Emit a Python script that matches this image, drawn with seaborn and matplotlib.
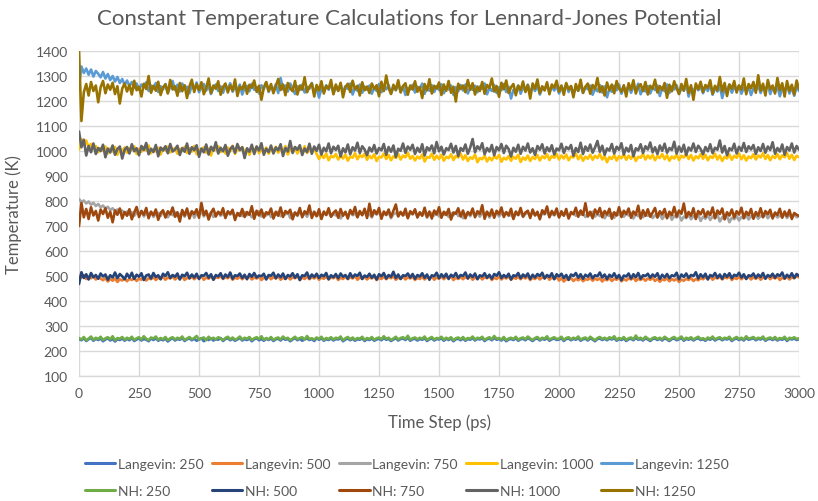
import numpy as np
import pandas as pd
import matplotlib
matplotlib.use("Agg")
import matplotlib.pyplot as plt
from matplotlib.lines import Line2D
import seaborn as sns

# Time axis (ps), sampled every 10 ps
time_ps = list(range(0, 3001, 10))

langevin_250 = [
    248, 243, 251, 240, 247, 252, 241, 249, 244, 250, 239, 246, 251, 242, 248, 238, 247, 244, 250, 241,
    249, 243, 252, 240, 246, 250, 242, 248, 245, 239, 250, 244, 251, 241, 247, 243, 249, 238, 246, 251,
    242, 248, 245, 252, 240, 247, 250, 243, 249, 241, 246, 251, 239, 248, 244, 250, 242, 247, 245, 252,
    240, 248, 251, 243, 249, 241, 246, 252, 242, 247, 244, 250, 239, 247, 251, 243, 248, 241, 249, 244,
    250, 240, 247, 249, 242, 251, 245, 248, 239, 246, 252, 243, 249, 241, 247, 250, 244, 248, 240, 251,
    245, 251, 241, 247, 244, 250, 242, 248, 246, 252, 239, 246, 250, 243, 249, 241, 247, 245, 251, 240,
    247, 244, 250, 241, 246, 249, 243, 252, 245, 248, 240, 246, 251, 242, 248, 250, 244, 253, 241, 247,
    249, 242, 248, 245, 251, 240, 247, 250, 242, 248, 246, 251, 241, 249, 244, 250, 239, 247, 249, 243,
    250, 241, 248, 245, 252, 242, 249, 246, 251, 240, 247, 250, 243, 252, 245, 248, 242, 250, 239, 246,
    248, 244, 251, 241, 247, 249, 243, 252, 246, 240, 248, 250, 242, 249, 245, 252, 241, 247, 250, 244,
    246, 251, 240, 248, 250, 243, 249, 245, 252, 241, 247, 249, 242, 251, 246, 239, 248, 250, 244, 249,
    243, 250, 246, 252, 241, 248, 244, 250, 240, 247, 249, 243, 253, 245, 248, 242, 251, 246, 240, 248,
    250, 244, 249, 242, 251, 246, 240, 248, 250, 243, 247, 252, 241, 249, 245, 250, 242, 248, 251, 244,
    247, 241, 249, 245, 252, 242, 248, 250, 243, 249, 246, 251, 240, 247, 250, 244, 249, 242, 252, 245,
    248, 251, 243, 249, 246, 252, 241, 247, 249, 244, 250, 242, 248, 245, 251, 240, 249, 246, 250, 244,
    247,
]

langevin_500 = [
    500, 494, 503, 488, 497, 491, 499, 486, 495, 490, 483, 492, 478, 488, 481, 490, 476, 487, 482, 491,
    479, 489, 484, 493, 480, 490, 485, 495, 482, 491, 487, 496, 484, 493, 488, 497, 485, 494, 490, 498,
    486, 495, 489, 499, 484, 493, 490, 497, 487, 496, 491, 500, 485, 494, 489, 498, 486, 495, 492, 499,
    488, 496, 491, 500, 485, 494, 489, 498, 487, 495, 492, 499, 486, 494, 490, 497, 484, 493, 491, 498,
    487, 496, 490, 499, 485, 493, 489, 497, 486, 495, 491, 500, 484, 494, 488, 498, 487, 496, 490, 499,
    485, 494, 489, 497, 486, 495, 491, 499, 484, 493, 488, 498, 487, 496, 490, 500, 485, 494, 489, 497,
    486, 495, 490, 498, 484, 493, 488, 497, 487, 496, 491, 499, 485, 494, 489, 498, 486, 495, 490, 497,
    484, 493, 488, 497, 486, 495, 490, 499, 485, 494, 489, 498, 487, 496, 491, 500, 484, 493, 488, 496,
    487, 496, 490, 499, 485, 494, 489, 498, 486, 495, 491, 499, 484, 493, 488, 497, 486, 495, 490, 498,
    485, 494, 489, 497, 487, 496, 490, 499, 484, 493, 488, 497, 486, 495, 491, 500, 485, 494, 489, 496,
    482, 491, 478, 488, 484, 492, 480, 489, 483, 492, 479, 487, 485, 493, 481, 490, 484, 491, 478, 488,
    483, 492, 480, 489, 485, 493, 479, 488, 482, 491, 486, 494, 480, 489, 484, 492, 481, 490, 485, 493,
    480, 489, 477, 487, 483, 491, 479, 488, 482, 490, 476, 486, 481, 489, 484, 492, 480, 488, 483, 491,
    487, 495, 489, 498, 485, 494, 490, 497, 486, 495, 491, 499, 484, 493, 488, 497, 487, 496, 490, 498,
    486, 495, 489, 497, 485, 494, 491, 499, 487, 496, 490, 498, 484, 493, 489, 497, 486, 495, 491, 499,
    494,
]

langevin_750 = [
    808, 796, 802, 790, 798, 785, 793, 780, 788, 775, 782, 770, 777, 764, 771, 760, 766, 755, 762, 750,
    758, 745, 755, 741, 752, 747, 760, 738, 750, 744, 757, 736, 749, 753, 740, 758, 746, 735, 751, 743,
    756, 739, 748, 752, 737, 755, 744, 760, 733, 749, 746, 757, 738, 751, 743, 754, 736, 748, 755, 741,
    750, 737, 753, 745, 758, 734, 747, 752, 740, 756, 743, 749, 735, 754, 746, 759, 738, 750, 742, 753,
    736, 749, 744, 757, 739, 751, 746, 755, 732, 748, 753, 740, 756, 743, 750, 737, 754, 745, 758, 741,
    747, 733, 752, 744, 756, 738, 749, 742, 755, 730, 746, 751, 739, 757, 743, 750, 736, 753, 745, 759,
    740, 748, 734, 754, 746, 757, 737, 750, 743, 755, 731, 747, 752, 741, 756, 744, 749, 735, 753, 746,
    758, 739, 750, 744, 755, 733, 748, 753, 742, 757, 738, 749, 745, 754, 736, 751, 743, 756, 740, 748,
    731, 747, 752, 739, 755, 745, 750, 737, 753, 744, 757, 734, 748, 742, 754, 738, 749, 746, 756, 740,
    745, 733, 751, 743, 757, 736, 748, 753, 740, 755, 744, 749, 732, 752, 746, 758, 739, 750, 742, 754,
    737, 748, 744, 756, 734, 749, 753, 741, 755, 745, 750, 736, 752, 743, 757, 738, 747, 740, 754, 731,
    746, 740, 751, 733, 748, 744, 755, 737, 750, 742, 753, 730, 747, 739, 752, 735, 745, 741, 749, 732,
    743, 736, 748, 728, 742, 738, 747, 725, 740, 734, 745, 722, 738, 731, 744, 727, 739, 733, 746, 720,
    737, 729, 743, 724, 738, 732, 745, 718, 735, 728, 741, 715, 733, 727, 740, 722, 736, 730, 742, 726,
    739, 733, 745, 729, 741, 736, 748, 731, 743, 738, 746, 734, 742, 737, 749, 732, 744, 739, 747, 735,
    740,
]

langevin_1000 = [
    1005, 1048, 1030, 1042, 1015, 1028, 1008, 1020, 995, 1012, 1002, 1018, 990, 1010, 998, 1016, 985, 1008, 1000, 1014,
    993, 1011, 1004, 1019, 988, 1009, 997, 1016, 1002, 1022, 991, 1007, 999, 1013, 986, 1010, 1003, 1018, 994, 1006,
    1012, 989, 1008, 1001, 1017, 992, 1011, 998, 1020, 987, 1006, 1000, 1015, 993, 1009, 982, 1013, 1004, 1019, 996,
    1007, 990, 1014, 999, 1021, 988, 1010, 1002, 1016, 994, 1008, 985, 1012, 1000, 1018, 991, 1006, 997, 1014, 989,
    1009, 1001, 1017, 993, 1011, 998, 1020, 986, 1007, 1003, 1015, 990, 1010, 996, 1019, 992, 1005, 999, 1013, 988,
    968, 985, 972, 990, 963, 980, 975, 988, 966, 982, 970, 986, 961, 978, 973, 991, 967, 983, 976, 989,
    965, 981, 971, 987, 960, 977, 974, 990, 968, 984, 963, 979, 972, 988, 966, 982, 975, 993, 969, 980,
    962, 978, 970, 986, 958, 976, 973, 989, 965, 981, 968, 985, 961, 977, 971, 987, 964, 980, 974, 990,
    966, 983, 960, 975, 969, 986, 955, 972, 967, 981, 958, 974, 963, 979, 970, 984, 957, 973, 966, 980,
    961, 977, 969, 985, 956, 974, 965, 982, 960, 976, 968, 984, 962, 979, 971, 987, 964, 980, 973, 988,
    966, 982, 970, 986, 963, 978, 974, 990, 967, 983, 961, 977, 969, 985, 965, 981, 972, 988, 966, 980,
    955, 976, 968, 984, 962, 979, 971, 987, 965, 981, 969, 986, 960, 977, 973, 989, 966, 982, 970, 985,
    963, 980, 972, 988, 967, 983, 961, 978, 970, 986, 964, 981, 974, 990, 968, 984, 962, 979, 971, 987,
    969, 985, 963, 979, 972, 989, 966, 982, 960, 977, 970, 986, 965, 981, 973, 990, 967, 983, 962, 978,
    971, 987, 966, 982, 974, 991, 968, 984, 963, 980, 972, 988, 967, 983, 975, 992, 969, 985, 964, 981,
    975,
]

langevin_1250 = [
    1260, 1338, 1312, 1330, 1305, 1326, 1298, 1320, 1309, 1295, 1316, 1290, 1308, 1284, 1300, 1278, 1296, 1272, 1288, 1265,
    1282, 1260, 1276, 1252, 1270, 1245, 1266, 1258, 1275, 1240, 1262, 1250, 1272, 1236, 1259, 1247, 1268, 1233, 1256, 1280,
    1244, 1265, 1238, 1270, 1249, 1257, 1231, 1262, 1246, 1274, 1235, 1255, 1268, 1242, 1260, 1228, 1253, 1266, 1240, 1259,
    1233, 1261, 1248, 1271, 1237, 1256, 1243, 1266, 1226, 1252, 1260, 1239, 1269, 1245, 1255, 1230, 1263, 1248, 1275, 1236,
    1258, 1242, 1267, 1232, 1292, 1246, 1262, 1238, 1270, 1250, 1228, 1259, 1244, 1266, 1234, 1257, 1249, 1272, 1231, 1255,
    1214, 1250, 1239, 1263, 1245, 1268, 1230, 1256, 1242, 1265, 1236, 1259, 1248, 1270, 1226, 1253, 1241, 1266, 1233, 1257,
    1245, 1262, 1229, 1254, 1240, 1268, 1235, 1258, 1247, 1264, 1230, 1255, 1243, 1269, 1238, 1260, 1224, 1252, 1246, 1265,
    1234, 1257, 1248, 1270, 1229, 1255, 1241, 1263, 1236, 1259, 1244, 1267, 1231, 1253, 1246, 1262, 1225, 1256, 1239, 1264,
    1242, 1266, 1230, 1254, 1245, 1261, 1235, 1258, 1249, 1270, 1227, 1252, 1240, 1264, 1232, 1255, 1243, 1268, 1236, 1257,
    1210, 1245, 1238, 1262, 1229, 1254, 1244, 1266, 1233, 1258, 1240, 1263, 1226, 1251, 1246, 1268, 1235, 1257, 1242, 1261,
    1230, 1255, 1244, 1267, 1236, 1259, 1228, 1253, 1241, 1265, 1232, 1256, 1247, 1262, 1225, 1250, 1239, 1264, 1234, 1258,
    1215, 1250, 1237, 1261, 1243, 1266, 1229, 1254, 1240, 1263, 1233, 1257, 1245, 1269, 1227, 1252, 1238, 1260, 1230, 1255,
    1244, 1262, 1220, 1253, 1239, 1266, 1232, 1258, 1246, 1263, 1228, 1251, 1241, 1268, 1218, 1254, 1236, 1261, 1243, 1257,
    1231, 1256, 1240, 1264, 1225, 1252, 1238, 1260, 1212, 1249, 1242, 1266, 1233, 1255, 1244, 1262, 1229, 1253, 1238, 1259,
    1224, 1250, 1241, 1263, 1232, 1256, 1245, 1267, 1228, 1254, 1237, 1260, 1219, 1251, 1243, 1265, 1230, 1255, 1221, 1258,
    1240,
]

nh_250 = [
    252, 246, 256, 243, 250, 258, 245, 253, 248, 257, 244, 251, 255, 247, 259, 243, 252, 249, 256, 245,
    253, 248, 257, 244, 251, 255, 246, 259, 249, 243, 254, 250, 258, 245, 252, 247, 256, 243, 251, 255,
    246, 253, 249, 258, 244, 250, 256, 247, 252, 260, 245, 251, 254, 243, 257, 248, 253, 246, 255, 250,
    243, 252, 257, 247, 254, 245, 250, 258, 246, 253, 249, 256, 244, 251, 255, 248, 259, 245, 252, 247,
    256, 244, 251, 254, 246, 258, 249, 253, 243, 250, 257, 247, 252, 255, 245, 260, 248, 251, 246, 254,
    249, 257, 244, 252, 248, 255, 246, 253, 250, 258, 243, 251, 256, 247, 254, 245, 252, 249, 257, 244,
    252, 248, 256, 245, 251, 254, 247, 259, 249, 253, 244, 250, 257, 246, 252, 255, 248, 261, 245, 251,
    254, 247, 253, 249, 258, 244, 251, 256, 246, 252, 250, 257, 245, 253, 248, 255, 243, 251, 254, 247,
    256, 245, 252, 249, 258, 246, 253, 250, 257, 244, 251, 255, 247, 260, 249, 252, 246, 256, 243, 250,
    253, 248, 257, 245, 251, 254, 247, 258, 250, 244, 252, 256, 246, 253, 249, 259, 245, 251, 255, 248,
    250, 257, 244, 252, 255, 247, 253, 249, 258, 245, 251, 254, 246, 257, 250, 243, 252, 256, 248, 253,
    247, 255, 250, 259, 245, 252, 248, 256, 244, 251, 254, 247, 262, 249, 253, 246, 257, 250, 244, 252,
    255, 248, 253, 246, 257, 250, 244, 252, 256, 247, 251, 258, 245, 253, 249, 255, 246, 252, 257, 248,
    251, 245, 254, 249, 258, 246, 252, 255, 247, 253, 250, 257, 244, 251, 256, 248, 253, 246, 259, 249,
    252, 256, 247, 253, 250, 258, 245, 251, 254, 248, 256, 246, 252, 249, 257, 244, 253, 250, 255, 248,
    251,
]

nh_500 = [
    468, 515, 492, 507, 486, 512, 495, 504, 489, 510, 498, 506, 485, 503, 494, 514, 491, 508, 499, 487,
    509, 493, 513, 488, 505, 497, 511, 484, 502, 506, 490, 512, 496, 503, 487, 509, 500, 515, 492, 504,
    497, 510, 486, 505, 499, 513, 491, 506, 494, 509, 488, 503, 501, 512, 493, 507, 485, 504, 498, 511,
    490, 506, 496, 514, 489, 503, 500, 510, 492, 505, 487, 508, 497, 512, 494, 502, 499, 509, 486, 504,
    501, 513, 491, 506, 495, 510, 488, 504, 498, 511, 493, 507, 484, 503, 500, 514, 490, 506, 496, 509,
    492, 505, 499, 512, 487, 503, 495, 508, 491, 510, 497, 504, 489, 511, 494, 506, 500, 513, 488, 502,
    496, 509, 493, 505, 486, 507, 499, 512, 490, 504, 497, 517, 492, 506, 488, 503, 500, 510, 494, 508,
    489, 504, 498, 511, 493, 506, 485, 503, 499, 513, 491, 507, 495, 509, 488, 505, 497, 512, 492, 504,
    500, 514, 490, 506, 496, 510, 487, 503, 498, 511, 493, 505, 489, 508, 501, 515, 492, 504, 495, 509,
    486, 503, 499, 512, 491, 506, 497, 510, 488, 505, 494, 508, 500, 513, 490, 504, 496, 511, 487, 507,
    498, 509, 492, 504, 485, 506, 500, 512, 493, 507, 489, 505, 497, 510, 491, 503, 499, 514, 494, 506,
    488, 505, 496, 511, 492, 504, 483, 502, 498, 510, 490, 507, 495, 512, 489, 503, 500, 509, 493, 506,
    497, 511, 488, 505, 494, 508, 491, 503, 499, 513, 487, 506, 496, 510, 492, 504, 500, 515, 490, 507,
    495, 509, 486, 504, 498, 512, 493, 506, 489, 508, 497, 511, 491, 505, 500, 513, 494, 507, 488, 503,
    499, 510, 492, 506, 496, 512, 489, 504, 497, 509, 493, 507, 500, 514, 490, 505, 495, 511, 492, 508,
    500,
]

nh_750 = [
    700, 792, 735, 768, 728, 775, 742, 760, 722, 766, 748, 771, 733, 757, 715, 762, 745, 770, 730, 756,
    741, 767, 727, 754, 776, 736, 760, 745, 772, 731, 757, 743, 766, 725, 752, 763, 734, 759, 747, 774,
    737, 755, 718, 764, 742, 770, 730, 758, 748, 767, 733, 792, 744, 761, 726, 753, 769, 738, 757, 746,
    771, 732, 759, 749, 765, 724, 752, 740, 768, 736, 756, 745, 779, 729, 761, 742, 766, 734, 755, 748,
    770, 730, 757, 741, 774, 736, 760, 751, 765, 727, 754, 743, 772, 735, 759, 748, 782, 732, 756, 739,
    767, 728, 758, 744, 771, 737, 753, 762, 733, 768, 741, 757, 730, 764, 747, 776, 735, 760, 743, 769,
    732, 789, 739, 763, 748, 772, 729, 758, 745, 766, 736, 761, 786, 738, 756, 742, 769, 731, 759, 748,
    767, 734, 755, 741, 773, 737, 758, 730, 762, 746, 775, 733, 757, 744, 768, 726, 754, 749, 771, 738,
    762, 731, 756, 745, 770, 735, 759, 748, 783, 729, 757, 741, 766, 733, 761, 747, 774, 736, 755, 743,
    769, 728, 758, 744, 772, 738, 754, 761, 732, 766, 742, 757, 727, 763, 749, 778, 735, 760, 745, 770,
    734, 759, 741, 768, 730, 756, 747, 773, 737, 762, 744, 791, 738, 757, 731, 766, 748, 772, 735, 760,
    746, 769, 729, 755, 742, 775, 736, 761, 748, 770, 733, 758, 745, 781, 730, 763, 741, 767, 737, 754,
    772, 734, 759, 746, 768, 731, 757, 743, 776, 738, 762, 749, 790, 735, 756, 741, 771, 728, 760, 747,
    767, 736, 758, 744, 774, 731, 762, 748, 770, 727, 755, 742, 766, 734, 759, 746, 773, 732, 757, 743,
    768, 729, 756, 741, 771, 735, 760, 747, 765, 730, 754, 744, 769, 733, 758, 739, 764, 728, 752, 745,
    740,
]

nh_1000 = [
    1078, 1015, 1045, 982, 1020, 995, 1030, 988, 1012, 1000, 1025, 975, 1010, 994, 1022, 985, 1008, 1018, 970, 1005,
    1016, 990, 1027, 999, 1011, 983, 1020, 1004, 1032, 987, 1009, 996, 1024, 979, 1014, 1002, 1019, 991, 1028, 998,
    1006, 1021, 984, 1012, 997, 1030, 989, 1015, 1003, 1023, 977, 1010, 995, 1026, 986, 1017, 1001, 1035, 990, 1013,
    999, 1024, 981, 1008, 1019, 993, 1028, 1004, 1015, 972, 1011, 997, 1025, 988, 1018, 1002, 1031, 985, 1009, 996,
    1022, 990, 1014, 1003, 1027, 980, 1012, 998, 1040, 992, 1016, 1005, 1023, 984, 1010, 996, 1029, 989, 1018, 1001,
    1025, 986, 1013, 999, 1030, 991, 1017, 1004, 1021, 978, 1011, 995, 1026, 987, 1015, 1002, 1033, 992, 1019, 1006,
    983, 1014, 998, 1024, 990, 1012, 1003, 1028, 985, 1016, 997, 1022, 976, 1009, 1001, 1030, 993, 1018, 1005, 1025,
    988, 1013, 996, 1027, 982, 1015, 1003, 1022, 991, 1036, 999, 1017, 986, 1011, 1004, 1029, 994, 1020, 980, 1012,
    1001, 1026, 989, 1014, 1048, 995, 1019, 1006, 1031, 987, 1012, 998, 1024, 983, 1016, 1003, 1028, 992, 1021, 1008,
    978, 1013, 997, 1025, 989, 1017, 1002, 1030, 994, 1011, 984, 1020, 1005, 1027, 990, 1015, 999, 1023, 986, 1010,
    1003, 1029, 992, 1016, 1007, 1024, 981, 1012, 996, 1033, 988, 1018, 1001, 1026, 993, 1014, 1040, 997, 1021, 985,
    1010, 1002, 1028, 990, 1017, 1005, 1031, 986, 1013, 998, 1024, 979, 1011, 1003, 1027, 992, 1019, 1006, 1034, 995,
    1015, 988, 1022, 1001, 1029, 993, 1012, 1004, 1037, 990, 1018, 997, 1025, 984, 1014, 1002, 1030, 996, 1021, 1008,
    987, 1016, 999, 1027, 991, 1013, 1005, 1042, 994, 1020, 983, 1011, 1003, 1029, 990, 1017, 1001, 1032, 996, 1019,
    1006, 1024, 988, 1015, 1000, 1028, 993, 1018, 1004, 1035, 989, 1012, 998, 1026, 985, 1016, 1002, 1030, 994, 1020,
    1005,
]

nh_1250 = [
    1400, 1120, 1235, 1268, 1222, 1276, 1240, 1262, 1195, 1255, 1280, 1231, 1266, 1245, 1273, 1228, 1259, 1190, 1250, 1270,
    1238, 1264, 1226, 1281, 1243, 1257, 1218, 1269, 1248, 1300, 1233, 1261, 1241, 1277, 1224, 1255, 1266, 1230, 1284, 1246,
    1259, 1221, 1272, 1239, 1263, 1212, 1258, 1285, 1236, 1267, 1244, 1275, 1227, 1253, 1290, 1232, 1262, 1249, 1279, 1225,
    1256, 1270, 1234, 1263, 1242, 1286, 1220, 1258, 1247, 1274, 1229, 1265, 1253, 1282, 1237, 1261, 1205, 1254, 1276, 1240,
    1268, 1231, 1259, 1288, 1244, 1266, 1223, 1272, 1250, 1239, 1280, 1226, 1262, 1245, 1295, 1235, 1257, 1270, 1218, 1264,
    1242, 1279, 1230, 1260, 1249, 1284, 1227, 1266, 1240, 1273, 1215, 1256, 1269, 1236, 1281, 1247, 1261, 1222, 1275, 1243,
    1258, 1232, 1270, 1248, 1263, 1219, 1277, 1240, 1302, 1252, 1228, 1265, 1244, 1283, 1234, 1259, 1271, 1225, 1262, 1246,
    1279, 1237, 1256, 1212, 1268, 1243, 1287, 1230, 1261, 1250, 1274, 1224, 1266, 1241, 1280, 1233, 1257, 1198, 1269, 1248,
    1262, 1235, 1284, 1245, 1271, 1226, 1258, 1240, 1276, 1229, 1264, 1252, 1290, 1238, 1260, 1217, 1273, 1247, 1282, 1232,
    1255, 1268, 1223, 1261, 1244, 1278, 1236, 1263, 1210, 1270, 1249, 1286, 1231, 1259, 1242, 1275, 1227, 1266, 1253, 1281,
    1238, 1262, 1225, 1272, 1246, 1260, 1215, 1268, 1241, 1285, 1233, 1257, 1270, 1229, 1264, 1248, 1292, 1236, 1259, 1222,
    1274, 1243, 1266, 1231, 1280, 1250, 1237, 1263, 1218, 1271, 1245, 1283, 1230, 1258, 1267, 1240, 1276, 1226, 1261, 1249,
    1285, 1234, 1260, 1244, 1272, 1213, 1265, 1239, 1279, 1251, 1228, 1268, 1242, 1288, 1232, 1263, 1205, 1270, 1247, 1277,
    1236, 1264, 1252, 1283, 1229, 1261, 1243, 1296, 1238, 1272, 1220, 1266, 1249, 1280, 1234, 1262, 1245, 1290, 1227, 1268,
    1251, 1276, 1233, 1303, 1241, 1269, 1222, 1284, 1247, 1262, 1230, 1292, 1243, 1271, 1218, 1280, 1240, 1265, 1226, 1282,
    1248,
]

series_names = [
    "Langevin: 250", "Langevin: 500", "Langevin: 750", "Langevin: 1000", "Langevin: 1250",
    "NH: 250", "NH: 500", "NH: 750", "NH: 1000", "NH: 1250",
]
series_values = [
    langevin_250, langevin_500, langevin_750, langevin_1000, langevin_1250,
    nh_250, nh_500, nh_750, nh_1000, nh_1250,
]
series_colors = [
    "#4472C4", "#ED7D31", "#A5A5A5", "#FFC000", "#5B9BD5",
    "#70AD47", "#264478", "#9E480E", "#636363", "#997300",
]

y_ticks = list(range(100, 1401, 100))
x_ticks = list(range(0, 3001, 250))

# Long-form table for seaborn
frames = []
for name, vals in zip(series_names, series_values):
    frames.append(pd.DataFrame({"Time Step (ps)": time_ps,
                                "Temperature (K)": vals,
                                "Series": name}))
df = pd.concat(frames, ignore_index=True)

sns.set_theme(style="white")
plt.rcParams["font.family"] = ["Lato", "DejaVu Sans"]

text_color = "#595959"
grid_color = "#D9D9D9"

fig = plt.figure(figsize=(8.18, 5.02), dpi=100)
ax = fig.add_axes([0.0966, 0.249, 0.8802, 0.6474])

sns.lineplot(
    data=df, x="Time Step (ps)", y="Temperature (K)", hue="Series",
    hue_order=series_names, palette=dict(zip(series_names, series_colors)),
    linewidth=1.9, legend=False, ax=ax, sort=False, estimator=None,
)

ax.set_xlim(0, 3000)
ax.set_ylim(100, 1400)
ax.set_xticks(x_ticks)
ax.set_yticks(y_ticks)
ax.tick_params(axis="both", length=0, labelsize=10, labelcolor=text_color, pad=8)
ax.grid(True, color=grid_color, linewidth=1.0)
ax.set_axisbelow(True)
for side in ["top", "right", "left"]:
    ax.spines[side].set_visible(False)
ax.spines["bottom"].set_color(grid_color)
ax.spines["bottom"].set_linewidth(1.0)

ax.set_xlabel("Time Step (ps)", fontsize=12, color=text_color, labelpad=10)
ax.set_ylabel("Temperature (K)", fontsize=12, color=text_color, labelpad=10)
fig.text(0.5, 0.962, "Constant Temperature Calculations for Lennard-Jones Potential",
         ha="center", va="center", fontsize=16, color=text_color)

# Legend: Langevin entries on the first row, NH entries on the second
handles = {name: Line2D([0], [0], color=c, linewidth=2.2)
           for name, c in zip(series_names, series_colors)}
ordered = []
for i in range(5):
    ordered.append(series_names[i])
    ordered.append(series_names[i + 5])
leg = fig.legend([handles[n] for n in ordered], ordered, ncol=5,
                 loc="center", bbox_to_anchor=(0.497, 0.047), frameon=False,
                 fontsize=10, handlelength=2.2, handletextpad=0.2,
                 columnspacing=0.6, labelspacing=1.1, labelcolor=text_color)

fig.savefig("out.png", dpi=100)
